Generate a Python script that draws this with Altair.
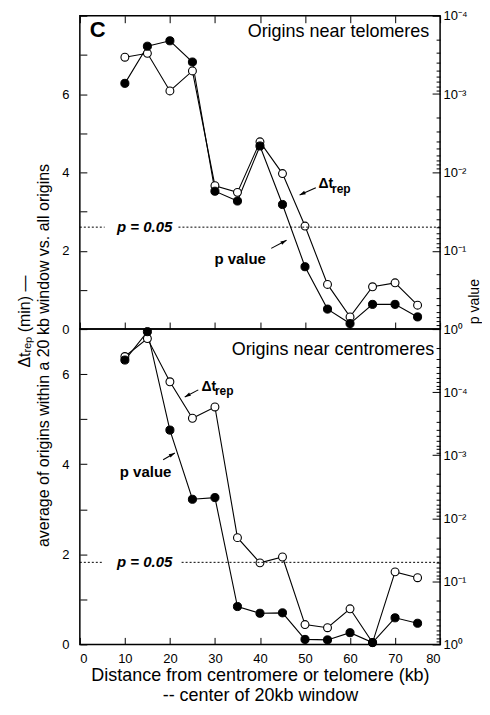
import altair as alt
import pandas as pd

FONT = "Liberation Sans"

# ---------------- data ----------------
distance_kb = [10, 15, 20, 25, 30, 35, 40, 45, 50, 55, 60, 65, 70, 75]

tel_dtrep = [6.94, 7.04, 6.08, 6.59, 3.66, 3.49, 4.78, 3.97, 2.63, 1.14, 0.31, 1.08, 1.18, 0.61]
tel_pval = [7.3e-4, 2.45e-4, 2.09e-4, 3.9e-4, 0.0174, 0.0232, 0.0046, 0.0257,
            0.16, 0.556, 0.851, 0.484, 0.484, 0.70]

cen_dtrep = [6.39, 6.79, 5.83, 5.02, 5.27, 2.37, 1.81, 1.94, 0.44, 0.37, 0.79, 0.04, 1.61, 1.48]
cen_pval = [3.1e-5, 1.1e-5, 4.0e-4, 5.0e-3, 4.7e-3, 0.251, 0.321, 0.316,
            0.834, 0.849, 0.652, 0.936, 0.379, 0.462]

x_ticks = [0, 10, 20, 30, 40, 50, 60, 70, 80]
p_labels = ["10⁰", "10⁻¹", "10⁻²", "10⁻³", "10⁻⁴"]
p_threshold = 0.05

x_title = ["Distance from centromere or telomere (kb)", "-- center of 20kb window"]
y_title_1 = "Δtᵣₑₚ (min) —"
y_title_2 = "average of origins within a 20 kb window vs. all origins"
p_title = "p value"

# annotation positions (data units: kb, left-axis minutes)
tel_ann = dict(
    title="Origins near telomeres", title_xy=(77.6, 7.58),
    letter="C", letter_xy=(2.2, 7.63),
    pv_xy=(35.6, 1.80), dt_xy=(53.0, 3.70), rep_xy=(56.0, 3.57),
    p05_xy=(14.4, 2.60), gap=(5.5, 21.9),
    arrows=[(52.4, 3.61, 48.8, 3.42, 244), (42.5, 2.06, 45.9, 2.27, 61)],
)
cen_ann = dict(
    title="Origins near centromeres", title_xy=(78.7, 6.54),
    letter="", letter_xy=(2.2, 6.6),
    pv_xy=(14.6, 3.82), dt_xy=(27.0, 5.72), rep_xy=(30.0, 5.62),
    p05_xy=(14.4, 1.82), gap=(4.9, 22.6),
    arrows=[(26.3, 5.65, 23.3, 5.49, 241), (18.5, 4.10, 21.1, 4.25, 60)],
)

LOG = "log(datum.value)/LN10"
MAJOR = f"abs({LOG} - round({LOG})) < 0.01"
P_LABEL_EXPR = (f"({MAJOR}) && round(-{LOG}) <= 4 ? "
                f"[{','.join(repr(s) for s in p_labels)}][round(-{LOG})] : ''")


def panel(dt, pv, ann, dt_max, p_exp, height, bottom_labels, top_ticks,
          left_title, left_title_xy, right_title):
    df = pd.DataFrame({"x": distance_kb, "dt": dt, "p": pv})
    xs = alt.Scale(domain=[0, 80], nice=False, zero=False)
    ys = alt.Scale(domain=[0, dt_max], nice=False, zero=False)
    ps = alt.Scale(type="log", domain=[10.0 ** (-p_exp), 1], reverse=True, nice=False)

    p_ticks = [m * 10.0 ** e for e in range(-p_exp, 0) for m in range(1, 10)] + [1.0]

    left_kw = dict(values=list(range(dt_max + 1)),
                   labelExpr="datum.value % 2 === 0 && datum.value < 8 ? datum.label : ''",
                   tickSize={"expr": "-7"}, labelPadding=18, domain=False, grid=False,
                   labelFontSize=13, title=None)
    if left_title:
        left_kw.update(title=left_title, titleX=left_title_xy[0], titleY=left_title_xy[1],
                       titleAngle=270, titleAlign="center", titleBaseline="bottom",
                       titleFontSize=16, titleFontWeight="normal")
    left_axis = alt.Axis(**left_kw)

    right_kw = dict(orient="right", values=p_ticks, labelExpr=P_LABEL_EXPR,
                    tickSize={"expr": f"({MAJOR}) ? -8 : -4"}, labelPadding=11,
                    domain=False, grid=False, labelFontSize=13, title=None)
    if right_title:
        right_kw.update(title=right_title, titleX=27, titleY=286, titleAngle=270,
                        titleAlign="center", titleBaseline="top",
                        titleFontSize=14, titleFontWeight="normal")
    right_axis = alt.Axis(**right_kw)

    if bottom_labels:
        bottom_axis = alt.Axis(values=x_ticks, tickSize={"expr": "-7"}, labelPadding=15,
                               domain=False, grid=False, labelFontSize=13, format="d",
                               title=x_title, titleFontSize=18, titleLineHeight=20,
                               titleFontWeight="normal", titlePadding=1)
    else:
        bottom_axis = alt.Axis(values=x_ticks, tickSize={"expr": "-7"}, labels=False,
                               domain=False, grid=False, title=None)
    top_axis = (alt.Axis(orient="top", values=x_ticks, tickSize={"expr": "-7"}, labels=False,
                         domain=False, grid=False, title=None) if top_ticks else None)

    base = alt.Chart(df)
    Xn = alt.X("x:Q", scale=xs, axis=None)

    l_dt_line = base.mark_line(color="black", strokeWidth=1.1).encode(
        x=alt.X("x:Q", scale=xs, axis=bottom_axis),
        y=alt.Y("dt:Q", scale=ys, axis=left_axis))
    l_p_line = base.mark_line(color="black", strokeWidth=1.1).encode(
        x=Xn, y=alt.Y("p:Q", scale=ps, axis=right_axis))
    l_dt_pts = base.mark_point(shape="circle", filled=True, fill="white", stroke="black",
                               strokeWidth=1.1, size=62, opacity=1).encode(
        x=Xn, y=alt.Y("dt:Q", scale=ys, axis=None))
    l_p_pts = base.mark_point(shape="circle", filled=True, fill="black", stroke="black",
                              strokeWidth=1, size=66, opacity=1).encode(
        x=Xn, y=alt.Y("p:Q", scale=ps, axis=None))

    g0, g1 = ann["gap"]
    dot_df = pd.DataFrame({"x1": [0, g1], "x2": [g0, 80], "p": [p_threshold, p_threshold]})
    l_dots = alt.Chart(dot_df).mark_rule(color="black", strokeWidth=1, strokeDash=[2, 2]).encode(
        x=alt.X("x1:Q", scale=xs, axis=top_axis), x2="x2:Q",
        y=alt.Y("p:Q", scale=ps, axis=None))

    arr_df = pd.DataFrame(ann["arrows"], columns=["x1", "y1", "x2", "y2", "ang"])
    l_arr = alt.Chart(arr_df).mark_rule(color="black", strokeWidth=1.1).encode(
        x=alt.X("x1:Q", scale=xs, axis=None), x2="x2:Q",
        y=alt.Y("y1:Q", scale=ys, axis=None), y2="y2:Q")
    l_head = alt.Chart(arr_df).mark_point(shape="M0,0L0.7,2.2L-0.7,2.2Z", filled=True,
                                          color="black", size=30, opacity=1).encode(
        x=alt.X("x2:Q", scale=xs, axis=None),
        y=alt.Y("y2:Q", scale=ys, axis=None),
        angle=alt.Angle("ang:Q", scale=None))

    def text_layer(rows, **mk):
        tdf = pd.DataFrame(rows, columns=["t", "x", "y"])
        return alt.Chart(tdf).mark_text(font=FONT, color="black", baseline="middle", **mk).encode(
            x=alt.X("x:Q", scale=xs, axis=None),
            y=alt.Y("y:Q", scale=ys, axis=None), text="t:N")

    layers = [l_dt_line, l_p_line, l_dt_pts, l_p_pts, l_dots, l_arr, l_head,
              text_layer([(ann["title"],) + ann["title_xy"]], fontSize=18, align="right"),
              text_layer([("p value",) + ann["pv_xy"]], fontSize=15, fontWeight="bold", align="center"),
              text_layer([("Δt",) + ann["dt_xy"]], fontSize=14, fontWeight="bold", align="left"),
              text_layer([("rep",) + ann["rep_xy"]], fontSize=12, fontWeight="bold", align="left"),
              text_layer([("p = 0.05",) + ann["p05_xy"]], fontSize=15, fontWeight="bold",
                         fontStyle="italic", align="center")]
    if ann["letter"]:
        layers.append(text_layer([(ann["letter"],) + ann["letter_xy"]], fontSize=22,
                                 fontWeight="bold", align="left"))

    return (alt.layer(*layers)
            .resolve_scale(y="independent")
            .resolve_axis(x="independent", y="independent")
            .properties(width=361, height=height))


upper = panel(tel_dtrep, tel_pval, tel_ann, 8, 4, 314, False, True,
              y_title_1, (-47, 306), p_title)
lower = panel(cen_dtrep, cen_pval, cen_ann, 7, 5, 316, True, False,
              y_title_2, (-28, 26), None)

chart = (alt.vconcat(upper, lower, spacing=0, bounds="flush")
         .properties(padding={"left": 8, "top": 0, "right": 0, "bottom": 0})
         .configure_view(stroke="black", strokeWidth=1.5)
         .configure_axis(labelFont=FONT, titleFont=FONT, labelColor="black",
                         titleColor="black", tickColor="black", tickWidth=1))

chart.save("out.html", embed_options={"renderer": "svg", "actions": False})
